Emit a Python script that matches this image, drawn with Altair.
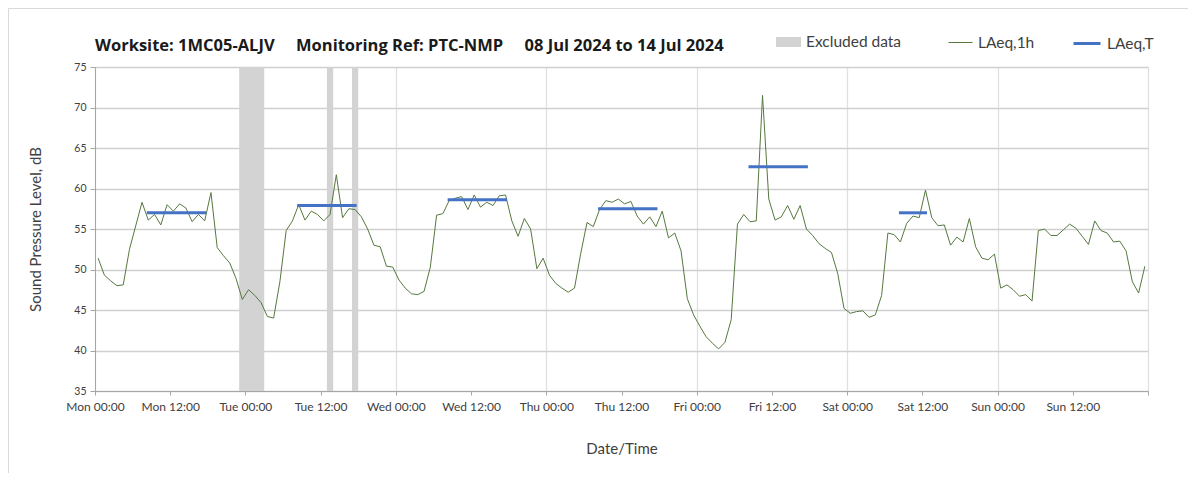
import json
import pandas as pd
import altair as alt

GAP = "\u00a0" * 5
TITLE = f"Worksite: 1MC05-ALJV{GAP}Monitoring Ref: PTC-NMP{GAP}08 Jul 2024 to 14 Jul 2024"

tick_labels = ["Mon 00:00", "Mon 12:00", "Tue 00:00", "Tue 12:00", "Wed 00:00",
               "Wed 12:00", "Thu 00:00", "Thu 12:00", "Fri 00:00", "Fri 12:00",
               "Sat 00:00", "Sat 12:00", "Sun 00:00", "Sun 12:00", ""]
tick_hours = [0, 12, 24, 36, 48, 60, 72, 84, 96, 108, 120, 132, 144, 156, 168]

# hourly LAeq,1h readings, Mon 00:00 -> Sun 23:00
laeq_1h = [
    51.4, 49.3, 48.6, 48.0, 48.1, 52.5, 55.4, 58.3, 56.1, 56.8, 55.5, 58.0,
    57.2, 58.1, 57.6, 55.9, 56.8, 56.0, 59.5, 52.7, 51.7, 50.8, 48.9, 46.3,
    47.5, 46.8, 45.9, 44.2, 44.0, 48.5, 54.8, 56.0, 58.0, 56.1, 57.2, 56.8,
    56.0, 56.8, 61.7, 56.4, 57.5, 57.4, 56.5, 55.0, 53.0, 52.8, 50.4, 50.3,
    48.7, 47.7, 47.0, 46.9, 47.3, 50.3, 56.7, 56.9, 58.5, 58.8, 59.0, 57.4,
    59.2, 57.7, 58.3, 57.9, 59.1, 59.2, 56.0, 54.1, 56.3, 55.0, 50.1, 51.4,
    49.3, 48.3, 47.7, 47.2, 47.7, 52.0, 55.8, 55.3, 57.4, 58.5, 58.3, 58.7,
    58.1, 58.4, 56.6, 55.6, 56.5, 55.3, 57.2, 53.9, 54.5, 52.3, 46.4, 44.4,
    43.0, 41.7, 40.9, 40.2, 41.0, 43.8, 55.6, 56.8, 55.9, 56.0, 71.5, 58.7,
    56.1, 56.5, 57.9, 56.2, 57.9, 55.0, 54.2, 53.2, 52.6, 52.1, 49.5, 45.2,
    44.6, 44.8, 44.9, 44.1, 44.4, 46.8, 54.5, 54.3, 53.4, 55.7, 56.6, 56.4,
    59.8, 56.4, 55.4, 55.5, 53.0, 54.0, 53.4, 56.3, 52.8, 51.4, 51.2, 51.9,
    47.7, 48.1, 47.5, 46.7, 46.9, 46.1, 54.8, 55.0, 54.2, 54.2, 54.9, 55.6,
    55.1, 54.1, 53.1, 56.0, 54.8, 54.5, 53.4, 53.5, 52.3, 48.5, 47.1, 50.4,
]

# excluded periods (hours from Mon 00:00)
excl_start = [23, 37, 41]
excl_end = [27, 38, 42]

# LAeq,T periods
t_start = [8.5, 32.5, 56.5, 80.5, 104.5, 128.5]
t_end = [17.5, 41.5, 65.5, 89.5, 113.5, 132.5]
t_value = [57.0, 57.9, 58.6, 57.5, 62.7, 57.0]

hours = [i + 0.5 for i in range(len(laeq_1h))]

df_line = pd.DataFrame({"hour": hours, "laeq": laeq_1h, "series": "LAeq,1h"})
df_ex = pd.DataFrame({"start": excl_start, "end": excl_end, "series": "Excluded data"})
df_t = pd.DataFrame({"start": t_start, "end": t_end, "value": t_value, "series": "LAeq,T"})

FONT = "Lato"
TXT = "#404040"

xscale = alt.Scale(domain=[0, 168], nice=False, zero=False)
yscale = alt.Scale(domain=[35, 75], nice=False, zero=False)

xaxis = alt.Axis(
    values=tick_hours,
    labelExpr=f"{json.dumps(tick_labels)}[round(datum.value / 12)]",
    labelOverlap=False, labelFlush=False,
    labelFont=FONT, labelFontSize=12, labelColor=TXT, labelPadding=6,
    tickSize=4, tickColor="#a6a6a6", domainColor="#a6a6a6",
    grid=True, gridColor="#e0e0e0", gridWidth=1.3,
    gridOpacity={"condition": {"test": "datum.value % 24 === 0", "value": 1}, "value": 0},
    title="Date/Time", titleFont=FONT, titleFontSize=15, titleFontWeight="normal",
    titleColor=TXT, titleY=57, titleBaseline="middle",
)
yaxis = alt.Axis(
    values=[35, 40, 45, 50, 55, 60, 65, 70, 75],
    labelFont=FONT, labelFontSize=10.5, labelColor=TXT, labelPadding=4,
    labelFlush=False,
    tickSize=5, tickColor="#a6a6a6", domainColor="#a6a6a6",
    grid=True, gridColor="#d0d0d0", gridWidth=1.3,
    title="Sound Pressure Level, dB", titleFont=FONT, titleFontSize=15,
    titleFontWeight="normal", titleColor=TXT, titleX=-60, titleY=162,
    titleAngle=-90, titleBaseline="middle", titleAlign="center",
)

def leg(x, sym, size, sw):
    return alt.Legend(
        orient="none", legendX=x, legendY=-25 - (size ** 0.5) / 2, title=None,
        symbolType=sym, symbolSize=size, symbolStrokeWidth=sw, symbolOpacity=1,
        labelFont=FONT, labelFontSize=15.5, labelColor=TXT, labelOffset=5,
        padding=0,
    )

frame = alt.Chart(pd.DataFrame({"k": [0]})).mark_rect(
    fill="white", fillOpacity=0, stroke="#d9d9d9", strokeWidth=1
).encode(x=alt.value(-86.5), x2=alt.value(1200), y=alt.value(-58.5), y2=alt.value(500))

bands = alt.Chart(df_ex).mark_rect(opacity=1).encode(
    x=alt.X("start:Q", scale=xscale, axis=xaxis),
    x2="end:Q",
    color=alt.Color("series:N",
                    scale=alt.Scale(domain=["Excluded data"], range=["#d3d3d3"]),
                    legend=leg(681, "M-1,-0.4L1,-0.4L1,0.4L-1,0.4Z", 625, 0)),
)

line = alt.Chart(df_line).mark_line(strokeWidth=1).encode(
    x=alt.X("hour:Q", scale=xscale, axis=xaxis),
    y=alt.Y("laeq:Q", scale=yscale, axis=yaxis),
    color=alt.Color("series:N",
                    scale=alt.Scale(domain=["LAeq,1h"], range=["#56783f"]),
                    legend=leg(853, "stroke", 576, 1)),
)

rules = alt.Chart(df_t).mark_rule(strokeWidth=3, strokeCap="square").encode(
    x=alt.X("start:Q", scale=xscale, axis=xaxis),
    x2="end:Q",
    y=alt.Y("value:Q", scale=yscale, axis=yaxis),
    color=alt.Color("series:N",
                    scale=alt.Scale(domain=["LAeq,T"], range=["#4472c4"]),
                    legend=leg(977, "stroke", 729, 3)),
)

chart = alt.layer(frame, bands, line, rules).resolve_scale(color="independent").properties(
    width=1053, height=324,
    title=alt.TitleParams(text=TITLE, anchor="start", frame="group", font="Open Sans",
                          fontSize=16.5, fontWeight="bold", color="#1a1a1a",
                          offset=17, dy=63),
    autosize=alt.AutoSizeParams(type="none"),
    padding={"left": 87, "top": 59, "right": 40, "bottom": 82},
).configure_view(stroke="#d0d0d0", strokeWidth=1.3).configure(background="white")

chart.save("out.html", embed_options={"renderer": "svg", "actions": False})
